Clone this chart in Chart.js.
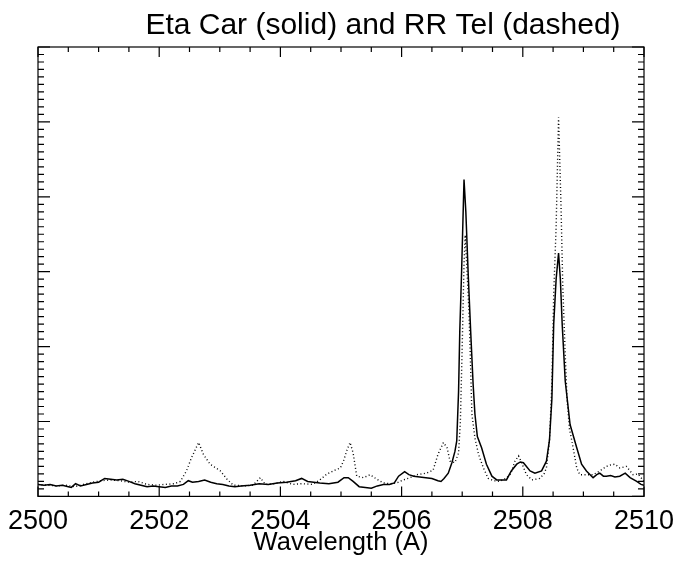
<!DOCTYPE html>
<html>
<head>
<meta charset="utf-8">
<script src="https://cdn.jsdelivr.net/npm/chart.js@4.4.1/dist/chart.umd.min.js"></script>
<style>
  html, body { margin: 0; padding: 0; background: #fff; }
  #wrap { width: 677px; height: 568px; }
</style>
</head>
<body>
<div id="wrap"><canvas id="spectrumChart" width="677" height="568"></canvas></div>
<script>
// wavelength / flux pairs (flux in arbitrary units, 1 unit = one major y tick)
const etaCarWave = [2500.00, 2500.10, 2500.20, 2500.30, 2500.40, 2500.50, 2500.55, 2500.62, 2500.70, 2500.80,
    2500.90, 2501.00, 2501.10, 2501.20, 2501.30, 2501.40, 2501.50, 2501.60, 2501.70, 2501.80,
    2501.90, 2502.00, 2502.10, 2502.20, 2502.30, 2502.40, 2502.48, 2502.55, 2502.65, 2502.75,
    2502.85, 2502.95, 2503.05, 2503.15, 2503.25, 2503.35, 2503.50, 2503.65, 2503.80, 2503.95,
    2504.10, 2504.25, 2504.35, 2504.45, 2504.55, 2504.65, 2504.80, 2504.95, 2505.05, 2505.12,
    2505.20, 2505.30, 2505.40, 2505.50, 2505.60, 2505.70, 2505.80, 2505.88, 2505.95, 2506.05,
    2506.12, 2506.20, 2506.30, 2506.40, 2506.50, 2506.60, 2506.65, 2506.70, 2506.77, 2506.83,
    2506.88, 2506.91, 2506.94, 2506.96, 2506.99, 2507.03, 2507.06, 2507.10, 2507.14, 2507.18,
    2507.21, 2507.25, 2507.32, 2507.40, 2507.49, 2507.57, 2507.65, 2507.73, 2507.81, 2507.90,
    2507.96, 2508.01, 2508.12, 2508.20, 2508.31, 2508.39, 2508.44, 2508.48, 2508.51, 2508.55,
    2508.59, 2508.62, 2508.65, 2508.70, 2508.78, 2508.89, 2508.97, 2509.05, 2509.16, 2509.22,
    2509.27, 2509.33, 2509.38, 2509.45, 2509.52, 2509.60, 2509.69, 2509.77, 2509.88, 2509.95,
    2510.00];
const etaCarFlux = [0.16, 0.15, 0.16, 0.14, 0.15, 0.13, 0.12, 0.17, 0.14, 0.16,
    0.18, 0.19, 0.24, 0.23, 0.22, 0.23, 0.20, 0.17, 0.15, 0.13,
    0.14, 0.13, 0.12, 0.14, 0.14, 0.16, 0.21, 0.19, 0.20, 0.22,
    0.19, 0.17, 0.16, 0.14, 0.13, 0.14, 0.15, 0.17, 0.16, 0.18,
    0.19, 0.21, 0.24, 0.20, 0.19, 0.18, 0.17, 0.19, 0.25, 0.25,
    0.20, 0.13, 0.12, 0.11, 0.14, 0.16, 0.16, 0.18, 0.27, 0.33,
    0.29, 0.27, 0.26, 0.25, 0.24, 0.21, 0.20, 0.24, 0.31, 0.45,
    0.60, 0.74, 1.40, 2.20, 3.00, 4.23, 3.80, 2.95, 2.20, 1.50,
    1.10, 0.80, 0.65, 0.43, 0.27, 0.22, 0.22, 0.22, 0.34, 0.43,
    0.46, 0.45, 0.34, 0.31, 0.34, 0.47, 0.75, 1.30, 2.30, 2.90,
    3.25, 2.90, 2.30, 1.54, 0.96, 0.65, 0.43, 0.34, 0.25, 0.29,
    0.31, 0.27, 0.27, 0.28, 0.26, 0.27, 0.31, 0.25, 0.20, 0.16,
    0.15];

const rrTelWave = [2500.00, 2500.15, 2500.30, 2500.45, 2500.60, 2500.75, 2500.90, 2501.05, 2501.20, 2501.35,
    2501.50, 2501.65, 2501.80, 2501.95, 2502.10, 2502.25, 2502.35, 2502.45, 2502.53, 2502.65,
    2502.73, 2502.84, 2503.01, 2503.12, 2503.22, 2503.40, 2503.55, 2503.67, 2503.75, 2503.90,
    2504.05, 2504.20, 2504.35, 2504.53, 2504.65, 2504.77, 2504.90, 2504.99, 2505.04, 2505.10,
    2505.15, 2505.20, 2505.26, 2505.37, 2505.48, 2505.59, 2505.70, 2505.81, 2505.92, 2506.03,
    2506.14, 2506.25, 2506.41, 2506.52, 2506.60, 2506.69, 2506.75, 2506.80, 2506.88, 2506.94,
    2506.97, 2507.00, 2507.03, 2507.05, 2507.08, 2507.11, 2507.13, 2507.16, 2507.21, 2507.27,
    2507.35, 2507.43, 2507.52, 2507.62, 2507.72, 2507.80, 2507.87, 2507.93, 2507.98, 2508.06,
    2508.15, 2508.28, 2508.35, 2508.39, 2508.44, 2508.48, 2508.51, 2508.55, 2508.59, 2508.63,
    2508.66, 2508.70, 2508.73, 2508.77, 2508.81, 2508.89, 2508.94, 2509.05, 2509.16, 2509.27,
    2509.38, 2509.45, 2509.52, 2509.60, 2509.71, 2509.82, 2509.90, 2510.00];
const rrTelFlux = [0.16, 0.15, 0.14, 0.15, 0.13, 0.16, 0.19, 0.21, 0.22, 0.21,
    0.19, 0.20, 0.16, 0.15, 0.16, 0.17, 0.20, 0.34, 0.51, 0.72,
    0.56, 0.43, 0.34, 0.23, 0.15, 0.14, 0.15, 0.25, 0.16, 0.17,
    0.20, 0.16, 0.17, 0.16, 0.22, 0.30, 0.35, 0.38, 0.47, 0.62,
    0.72, 0.58, 0.27, 0.25, 0.29, 0.23, 0.18, 0.17, 0.18, 0.22,
    0.25, 0.29, 0.31, 0.35, 0.56, 0.72, 0.65, 0.47, 0.45, 0.58,
    1.00, 2.00, 3.10, 3.49, 3.00, 2.50, 1.99, 1.10, 0.78, 0.56,
    0.38, 0.24, 0.21, 0.20, 0.24, 0.30, 0.47, 0.54, 0.45, 0.29,
    0.22, 0.24, 0.30, 0.38, 0.74, 1.50, 2.70, 3.60, 5.06, 3.90,
    2.80, 1.90, 1.30, 0.90, 0.74, 0.38, 0.29, 0.29, 0.29, 0.34,
    0.40, 0.42, 0.43, 0.38, 0.40, 0.29, 0.30, 0.20];

const xMin = 2500, xMax = 2510;
const yMin = 0, yMax = 6;
const titleText = 'Eta Car (solid) and RR Tel (dashed)';

const toPoints = (w, f) => w.map((x, i) => ({ x: x, y: f[i] }));

// IDL style box with inward ticks on all four sides, plus the title
const tickBox = {
    id: 'tickBox',
    afterDraw(chart) {
        const { ctx, chartArea: a, scales: { x, y } } = chart;
        ctx.save();
        ctx.strokeStyle = '#000';
        ctx.lineWidth = 1.2;
        ctx.strokeRect(a.left, a.top, a.right - a.left, a.bottom - a.top);
        ctx.beginPath();
        for (let i = 0; i <= 20; i++) {
            const px = x.getPixelForValue(xMin + i * 0.5);
            const len = i % 4 === 0 ? 10 : 5;
            ctx.moveTo(px, a.bottom); ctx.lineTo(px, a.bottom - len);
            ctx.moveTo(px, a.top); ctx.lineTo(px, a.top + len);
        }
        for (let i = 0; i <= 60; i++) {
            const py = y.getPixelForValue(yMin + i * 0.1);
            const len = i % 10 === 0 ? 12 : 6;
            ctx.moveTo(a.left, py); ctx.lineTo(a.left + len, py);
            ctx.moveTo(a.right, py); ctx.lineTo(a.right - len, py);
        }
        ctx.stroke();

        // the title sits right of centre in the original
        ctx.fillStyle = '#000';
        ctx.font = '30px "Liberation Sans"';
        ctx.textAlign = 'center';
        ctx.textBaseline = 'alphabetic';
        ctx.fillText(titleText, 383, 34);
        ctx.restore();
    }
};

new Chart(document.getElementById('spectrumChart'), {
    type: 'line',
    data: {
        datasets: [{
            label: 'Eta Car',
            data: toPoints(etaCarWave, etaCarFlux),
            borderColor: '#000',
            borderWidth: 1.5,
            pointRadius: 0,
            tension: 0
        }, {
            label: 'RR Tel',
            data: toPoints(rrTelWave, rrTelFlux),
            borderColor: '#000',
            borderWidth: 1.4,
            borderDash: [1, 2.5],
            pointRadius: 0,
            tension: 0
        }]
    },
    options: {
        responsive: false,
        animation: false,
        layout: { padding: { left: 38, right: 33, top: 47, bottom: 0 } },
        plugins: {
            legend: { display: false },
            tooltip: { enabled: false },
            title: { display: false }
        },
        scales: {
            x: {
                type: 'linear',
                min: xMin,
                max: xMax,
                grid: { display: false, drawTicks: false },
                border: { display: false },
                afterFit: (scale) => { scale.paddingLeft = 0; scale.paddingRight = 0; },
                ticks: {
                    stepSize: 2,
                    color: '#000',
                    padding: 12,
                    font: { family: 'Liberation Sans', size: 27, lineHeight: 1 },
                    callback: (v) => String(v)
                },
                title: {
                    display: true,
                    text: 'Wavelength (A)',
                    color: '#000',
                    font: { family: 'Liberation Sans', size: 25.5, lineHeight: 1.2 },
                    padding: { top: -20, bottom: 10 }
                }
            },
            y: {
                display: false,
                min: yMin,
                max: yMax
            }
        }
    },
    plugins: [tickBox]
});
</script>
</body>
</html>
